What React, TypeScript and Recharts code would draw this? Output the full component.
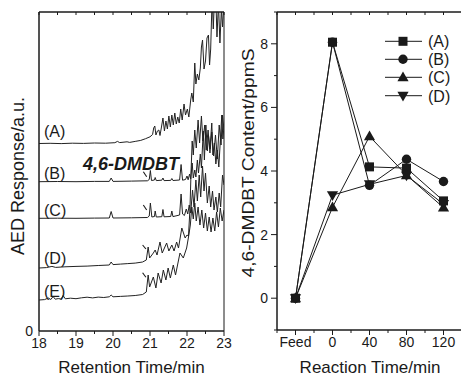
import React from 'react';
import { LineChart, Line, XAxis, YAxis, ReferenceArea, ReferenceLine, Customized } from 'recharts';

const FONT = '"Liberation Sans", Arial, Helvetica, sans-serif';
const INK = '#1a1a1a';

type Pt = [number, number];

// ---------- Left panel: chromatograms (retention time in min, response in a.u.) ----------
const traceA: Pt[] = [[18.0,187.5],[18.3,187.7],[18.6,187.4],[18.9,187.8],[19.2,187.6],[19.5,188.0],[19.8,187.8],[20.05,188.3],[20.12,189.6],[20.18,188.4],[20.38,189.2],[20.45,188.6],[20.6,189.6],[20.75,190.6],[20.88,192.3],[21.0,194.2],[21.07,196.5],[21.1,203],[21.13,205],[21.16,196],[21.2,200],[21.24,201],[21.27,195.5],[21.31,204],[21.35,213],[21.39,200],[21.43,210],[21.47,202],[21.51,215],[21.55,204],[21.59,216],[21.63,206],[21.67,218],[21.71,207],[21.75,214],[21.79,208],[21.83,222],[21.87,211],[21.92,227],[21.96,216],[22.01,222],[22.05,214],[22.1,231],[22.13,238],[22.17,229],[22.21,268],[22.24,247],[22.28,257],[22.32,251],[22.36,263],[22.39,284],[22.42,291],[22.46,262],[22.5,270],[22.54,293],[22.58,296],[22.61,266],[22.64,282],[22.68,335],[22.71,302],[22.74,330],[22.78,332],[22.81,294],[22.85,328],[22.89,288],[22.93,322],[22.96,304],[23.0,330]];
const traceB: Pt[] = [[18.0,149.3],[18.5,149.5],[19.0,149.3],[19.5,149.6],[19.9,149.6],[19.95,153],[20.0,149.6],[20.5,149.9],[20.93,150.2],[20.98,151.5],[21.01,160.5],[21.04,150.5],[21.12,151],[21.14,153.5],[21.17,150.4],[21.32,150.8],[21.35,153],[21.38,150.4],[21.56,150.6],[21.59,152.5],[21.62,150.5],[21.8,151],[21.84,166.5],[21.88,150.8],[21.96,151.5],[22.0,155],[22.03,151.2],[22.07,157],[22.1,152],[22.14,168],[22.17,153],[22.21,161],[22.24,154],[22.28,171],[22.31,158],[22.36,177],[22.39,163],[22.44,200],[22.47,171],[22.51,206],[22.55,180],[22.58,196],[22.62,182],[22.67,208],[22.7,176],[22.74,188],[22.78,167],[22.82,181],[22.86,164],[22.9,190],[22.94,216],[22.97,192],[23.0,205]];
const traceC: Pt[] = [[18.0,112.7],[18.5,112.8],[19.0,112.7],[19.5,112.9],[19.9,113],[19.95,119.5],[20.0,113],[20.5,113.2],[20.93,113.5],[20.98,115],[21.01,128],[21.05,114],[21.12,114.5],[21.14,120],[21.17,114],[21.32,114.3],[21.35,121.5],[21.38,114.2],[21.56,114.5],[21.59,120],[21.62,114.4],[21.8,116],[21.84,137],[21.88,117],[21.93,115.5],[21.98,122],[22.02,117],[22.06,126],[22.1,118],[22.15,141],[22.19,124],[22.24,151],[22.28,130],[22.33,156],[22.37,134],[22.42,165],[22.46,140],[22.5,158],[22.55,128],[22.6,145],[22.64,124],[22.69,140],[22.73,121],[22.78,134],[22.82,119],[22.87,138],[22.91,124],[22.96,156],[23.0,146]];
const traceD: Pt[] = [[18.0,63],[18.2,63.4],[18.35,64.6],[18.45,63.6],[18.7,64.2],[19.0,64.6],[19.3,64.9],[19.6,65.5],[19.9,66],[19.95,69],[20.0,66.4],[20.2,66.9],[20.4,67.4],[20.6,67.9],[20.8,69],[20.9,71],[20.95,84],[20.99,73],[21.09,78],[21.14,81],[21.19,76],[21.27,89],[21.33,78],[21.45,88],[21.51,80],[21.59,86],[21.65,80],[21.72,89],[21.77,83],[21.86,103],[21.95,93],[22.0,96],[22.04,95],[22.08,122],[22.11,160],[22.14,190],[22.17,176],[22.21,201],[22.25,183],[22.3,211],[22.34,188],[22.39,215],[22.43,190],[22.48,206],[22.52,181],[22.57,201],[22.62,178],[22.67,199],[22.72,175],[22.77,196],[22.82,172],[22.87,206],[22.92,186],[22.96,216],[23.0,201]];
const traceE: Pt[] = [[18.0,31],[18.15,31.4],[18.25,33],[18.32,31.5],[18.38,34.5],[18.44,31.8],[18.52,32.4],[18.6,32],[18.65,35.5],[18.71,32.2],[18.85,32.8],[19.0,32.3],[19.15,33.2],[19.3,33.8],[19.45,33.1],[19.6,33.9],[19.75,33.5],[19.9,34.2],[19.95,36],[20.0,34.2],[20.2,34.6],[20.4,35],[20.6,35.5],[20.8,36.5],[20.9,39],[20.95,56],[20.99,44],[21.09,54],[21.16,43],[21.22,58],[21.3,48],[21.36,61],[21.43,51],[21.49,63],[21.55,53],[21.63,66],[21.69,56],[21.81,78],[21.9,73],[21.99,83],[22.05,96],[22.09,106],[22.13,124],[22.17,112],[22.21,128],[22.25,110],[22.3,124],[22.35,106],[22.4,121],[22.45,103],[22.5,118],[22.55,100],[22.6,114],[22.65,99],[22.7,113],[22.75,100],[22.8,119],[22.85,104],[22.9,123],[22.95,110],[23.0,121]];
const traceNames = ['(A)', '(B)', '(C)', '(D)', '(E)'];
const retentionTicks = [18, 18.5, 19, 19.5, 20, 20.5, 21, 21.5, 22, 22.5, 23];
const responseTicks = [0];
// 4,6-DMDBT peak markers: [t1, v1, t2, v2]
const peakMarks = [[20.82, 159.3, 20.91, 154.3], [20.82, 126, 20.91, 121], [20.8, 86, 20.89, 82], [20.8, 58.3, 20.89, 53.7]];

// ---------- Right panel: 4,6-DMDBT content ----------
const reactionLabels = ['Feed', '0', '40', '80', '120'];
const contentA = [0, 8.05, 4.13, 4.09, 3.06];
const contentB = [0, 8.05, 3.55, 4.37, 3.67];
const contentC = [0, 2.86, 5.09, 3.87, 2.85];
const contentD = [0, 3.24, 3.58, 3.86, 2.96];
const seriesNames = ['(A)', '(B)', '(C)', '(D)'];
const contentTicks = [-1, 0, 1, 2, 3, 4, 5, 6, 7, 8, 9];
const reactionTicks = [-0.5, 0, 0.5, 1, 1.5, 2, 2.5, 3, 3.5, 4, 4.5];

const toRows = (pts: Pt[]) => pts.map(([t, v]) => ({ t, v }));
const traces = [traceA, traceB, traceC, traceD, traceE].map(toRows);
const contentRows = reactionLabels.map((label, i) => ({
  idx: i, label, A: contentA[i], B: contentB[i], C: contentC[i], D: contentD[i],
}));

type Shape = 'square' | 'circle' | 'up' | 'down';
const shapes: Shape[] = ['square', 'circle', 'up', 'down'];

function Marker({ cx, cy, shape }: { cx: number; cy: number; shape: Shape }) {
  if (shape === 'square') return <rect x={cx - 4.5} y={cy - 4.5} width={9} height={9} fill={INK} />;
  if (shape === 'circle') return <circle cx={cx} cy={cy} r={4.7} fill={INK} />;
  if (shape === 'up') return <polygon points={`${cx},${cy - 5.8} ${cx - 5.6},${cy + 4} ${cx + 5.6},${cy + 4}`} fill={INK} />;
  return <polygon points={`${cx},${cy + 5.8} ${cx - 5.6},${cy - 4} ${cx + 5.6},${cy - 4}`} fill={INK} />;
}

const makeBottomTick = (isMajor: (v: number) => boolean, fmt: (v: number) => string, majorLen: number, minorLen: number) =>
  (props: any) => {
    const { x, y, payload } = props;
    const v = payload.value as number;
    const major = isMajor(v);
    return (
      <g>
        <line x1={x} x2={x} y1={y} y2={y + (major ? majorLen : minorLen)} stroke={INK} strokeWidth={1} />
        {major && (
          <text x={x} y={y + 17} textAnchor="middle" fontSize={14} fontFamily={FONT} fill={INK}>{fmt(v)}</text>
        )}
      </g>
    );
  };

const makeTopTick = (len: number) => (props: any) => {
  const { x, y } = props;
  return <line x1={x} x2={x} y1={y} y2={y + len} stroke={INK} strokeWidth={1} />;
};

const makeLeftTick = (isMajor: (v: number) => boolean, majorLen: number, minorLen: number, gap: number) =>
  (props: any) => {
    const { x, y, payload } = props;
    const v = payload.value as number;
    const major = isMajor(v);
    return (
      <g>
        <line x1={x - (major ? majorLen : minorLen)} x2={x} y1={y} y2={y} stroke={INK} strokeWidth={1} />
        {major && (
          <text x={x - gap} y={y + 5} textAnchor="end" fontSize={14} fontFamily={FONT} fill={INK}>{String(v)}</text>
        )}
      </g>
    );
  };

const isInt = (v: number) => Math.abs(v - Math.round(v)) < 1e-6;

const LeftAnnotations = () => {
  const labelY = [136.5, 178.5, 215.5, 263.5, 296.5];
  return (
    <g fontFamily={FONT} fill={INK}>
      {traceNames.map((n, i) => (
        <text key={n} x={44} y={labelY[i]} fontSize={16}>{n}</text>
      ))}
      <text x={83} y={169.5} fontSize={18} fontWeight="bold" fontStyle="italic">4,6-DMDBT</text>
      <text transform="translate(24,176) rotate(-90)" textAnchor="middle" fontSize={18}>AED Response/a.u.</text>
      <text x={131.5} y={373} textAnchor="middle" fontSize={17}>Retention Time/min</text>
    </g>
  );
};

const RightAnnotations = () => {
  const rowY = [41.3, 59.3, 77.3, 95.7];
  return (
    <g fontFamily={FONT} fill={INK}>
      {seriesNames.map((n, i) => (
        <g key={n}>
          <line x1={145} x2={182} y1={rowY[i]} y2={rowY[i]} stroke={INK} strokeWidth={1} />
          <Marker cx={163} cy={rowY[i]} shape={shapes[i]} />
          <text x={188} y={rowY[i] + 5.8} fontSize={16}>{n}</text>
        </g>
      ))}
      <text transform="translate(13.5,163) rotate(-90) scale(1.2,1)" textAnchor="middle" fontSize={16}>4,6-DMDBT Content/ppmS</text>
      <text x={130} y={373} textAnchor="middle" fontSize={17}>Reaction Time/min</text>
    </g>
  );
};

export default function App() {
  return (
    <div style={{ position: 'absolute', left: 0, top: 0, width: 461, height: 376, background: '#fff', overflow: 'hidden' }}>
      <div style={{ position: 'absolute', left: 0, top: 0 }}>
        <LineChart width={240} height={376} margin={{ top: 11, right: 16, bottom: 0, left: 0 }}>
          <XAxis xAxisId="b" type="number" dataKey="t" domain={[18, 23]} allowDataOverflow ticks={retentionTicks}
            interval={0} height={45} tickSize={0} tickMargin={0} tickLine={false} axisLine={{ stroke: INK }}
            tick={makeBottomTick(isInt, (v) => String(v), 5, 3)} />
          <XAxis xAxisId="t" orientation="top" type="number" dataKey="t" domain={[18, 23]} allowDataOverflow ticks={retentionTicks}
            interval={0} height={1} tickSize={0} tickMargin={0} tickLine={false} axisLine={{ stroke: INK }}
            tick={makeTopTick(3)} />
          <YAxis yAxisId="l" type="number" dataKey="v" domain={[0, 319]} allowDataOverflow ticks={responseTicks}
            interval={0} width={39} tickSize={0} tickMargin={0} tickLine={false} axisLine={{ stroke: INK }}
            tick={makeLeftTick(() => true, 0, 0, 6)} />
          <ReferenceArea xAxisId="b" yAxisId="l" x1={18} x2={23} y1={0} y2={319} fill="none" stroke={INK} strokeWidth={1} ifOverflow="visible" />
          {traces.map((rows, i) => (
            <Line key={i} xAxisId="b" yAxisId="l" data={rows} dataKey="v" type="linear" stroke="#222" strokeWidth={1}
              dot={false} activeDot={false} isAnimationActive={false} />
          ))}
          {peakMarks.map((m, i) => (
            <ReferenceLine key={i} xAxisId="b" yAxisId="l" segment={[{ x: m[0], y: m[1] }, { x: m[2], y: m[3] }]}
              stroke={INK} strokeWidth={1.1} />
          ))}
          <Customized component={LeftAnnotations} />
        </LineChart>
      </div>
      <div style={{ position: 'absolute', left: 240, top: 0 }}>
        <LineChart width={222} height={376} data={contentRows} margin={{ top: 11, right: 0, bottom: 0, left: 0 }}>
          <XAxis xAxisId="b" type="number" dataKey="idx" domain={[-0.5, 4.5]} allowDataOverflow ticks={reactionTicks}
            interval={0} height={46} tickSize={0} tickMargin={0} tickLine={false} axisLine={{ stroke: INK }}
            tick={makeBottomTick(isInt, (v) => reactionLabels[Math.round(v)] ?? '', 5, 3)} />
          <XAxis xAxisId="t" orientation="top" type="number" dataKey="idx" domain={[-0.5, 4.5]} allowDataOverflow ticks={reactionTicks}
            interval={0} height={1} tickSize={0} tickMargin={0} tickLine={false} axisLine={{ stroke: INK }}
            tick={makeTopTick(3)} />
          <YAxis yAxisId="l" type="number" domain={[-1, 9]} allowDataOverflow ticks={contentTicks}
            interval={0} width={37} tickSize={0} tickMargin={0} tickLine={false} axisLine={{ stroke: INK }}
            tick={makeLeftTick((v) => v % 2 === 0, 6, 3, 9)} />
          <ReferenceArea xAxisId="b" yAxisId="l" x1={-0.5} x2={4.5} y1={-1} y2={9} fill="none" stroke={INK} strokeWidth={1} ifOverflow="visible" />
          {(['A', 'B', 'C', 'D'] as const).map((k, i) => (
            <Line key={k} xAxisId="b" yAxisId="l" dataKey={k} type="linear" stroke={INK} strokeWidth={1}
              isAnimationActive={false} activeDot={false}
              dot={(p: any) => <Marker key={`${k}-${p.index}`} cx={p.cx} cy={p.cy} shape={shapes[i]} />} />
          ))}
          <Customized component={RightAnnotations} />
        </LineChart>
      </div>
    </div>
  );
}
